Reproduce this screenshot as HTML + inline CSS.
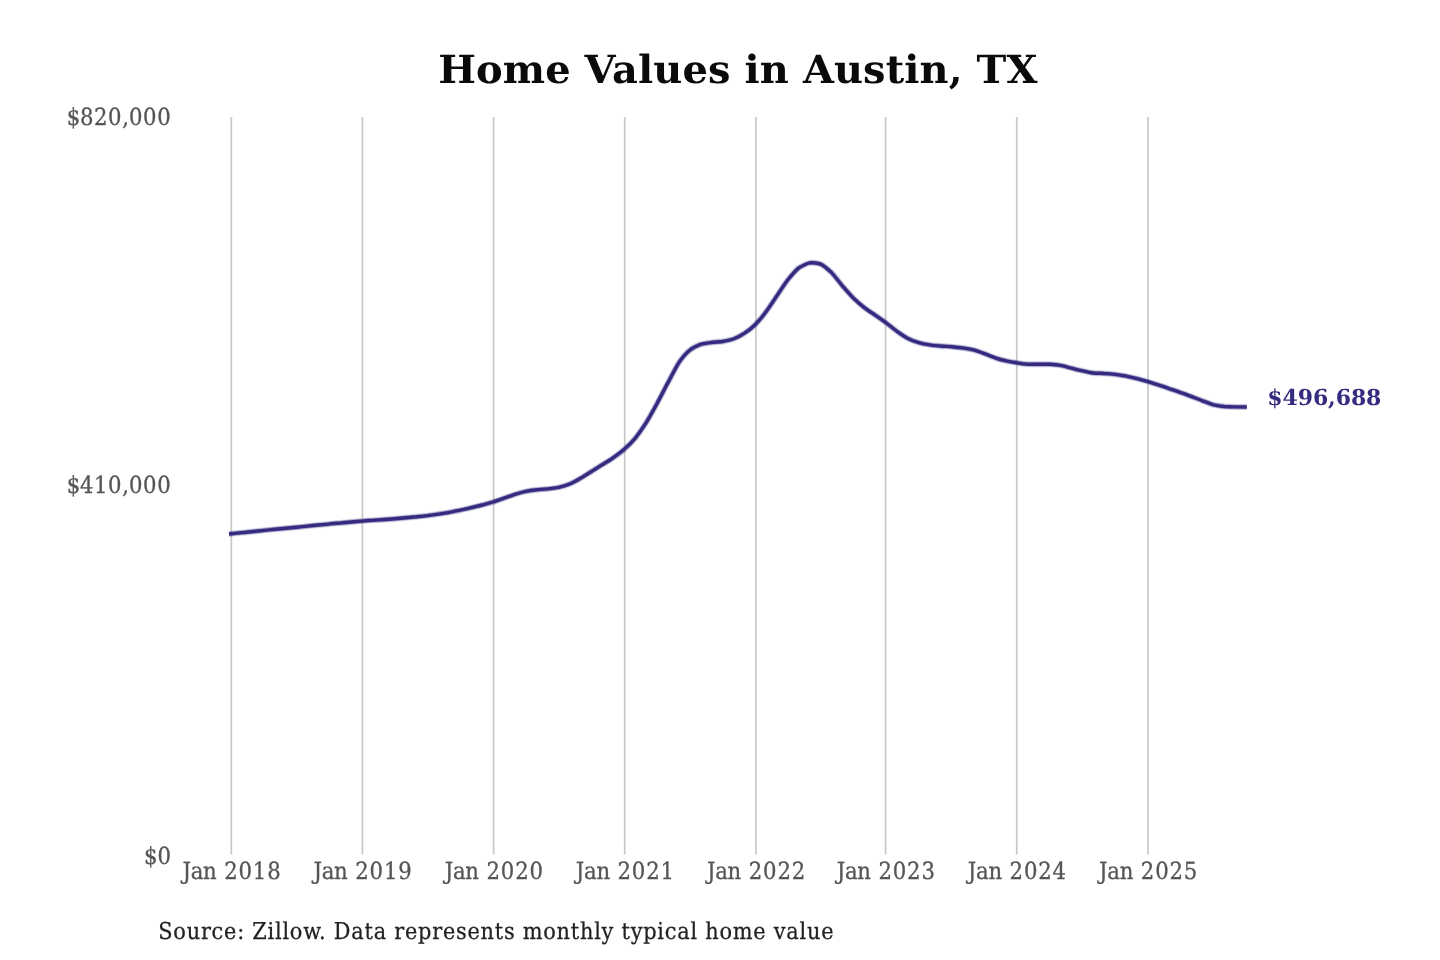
<!DOCTYPE html>
<html lang="en"><head><meta charset="utf-8"><title>Home Values in Austin, TX</title>
<style>
html,body{margin:0;padding:0;background:#fff;}
body{width:1440px;height:960px;overflow:hidden;}
svg{display:block;text-rendering:geometricPrecision;font-family:"DejaVu Serif","Liberation Serif",serif;}
.title{font-weight:bold;font-size:38.8px;fill:#0a0a0a;}
.ax text{font-family:"DejaVu Serif Condensed","DejaVu Serif",serif;font-stretch:condensed;font-size:23.6px;fill:#555;stroke:#555;stroke-width:0.3;}
.grid line{stroke:#c8c8c8;stroke-width:1.7;}
.src{font-family:"DejaVu Serif Condensed","DejaVu Serif",serif;font-stretch:condensed;font-size:23.2px;fill:#222;stroke:#222;stroke-width:0.25;}
.end{font-size:22px;font-weight:bold;fill:#352c80;}
</style></head><body>
<svg width="1440" height="960" viewBox="0 0 1440 960">
<rect width="1440" height="960" fill="#ffffff"/>
<text class="title" transform="translate(438.2 82.7) scale(1.03 1)" x="0" y="0" textLength="581.8" lengthAdjust="spacing">Home Values in Austin, TX</text>
<g class="grid">
<line x1="231.35" y1="117" x2="231.35" y2="854.5"/>
<line x1="362.40" y1="117" x2="362.40" y2="854.5"/>
<line x1="493.65" y1="117" x2="493.65" y2="854.5"/>
<line x1="624.70" y1="117" x2="624.70" y2="854.5"/>
<line x1="755.90" y1="117" x2="755.90" y2="854.5"/>
<line x1="885.60" y1="117" x2="885.60" y2="854.5"/>
<line x1="1016.75" y1="117" x2="1016.75" y2="854.5"/>
<line x1="1148.00" y1="117" x2="1148.00" y2="854.5"/>
</g>
<g class="ax">
<text x="66.71 80.11 94.11 107.91 122.26 129.11 143.11 157.36" y="124.7">$820,000</text>
<text x="66.71 80.11 94.11 107.91 122.26 129.11 143.11 157.36" y="492.7">$410,000</text>
<text x="143.91 157.41" y="863.5">$0</text>
<text y="879.3" x="182.47 190.66 203.06 216.86 224.16 238.51 252.86 267.21">Jan 2018</text>
<text y="879.3" x="313.52 321.71 334.11 347.91 355.21 369.56 383.91 398.26">Jan 2019</text>
<text y="879.3" x="444.77 452.96 465.36 479.16 486.46 500.81 515.16 529.51">Jan 2020</text>
<text y="879.3" x="575.82 584.01 596.41 610.21 617.51 631.86 646.21 660.56">Jan 2021</text>
<text y="879.3" x="707.02 715.21 727.61 741.41 748.71 763.06 777.41 791.76">Jan 2022</text>
<text y="879.3" x="836.72 844.91 857.31 871.11 878.41 892.76 907.11 921.46">Jan 2023</text>
<text y="879.3" x="967.87 976.06 988.46 1002.26 1009.56 1023.91 1038.26 1052.61">Jan 2024</text>
<text y="879.3" x="1099.12 1107.31 1119.71 1133.51 1140.81 1155.16 1169.51 1183.86">Jan 2025</text>
</g>
<g fill="none" stroke="#342a80" stroke-linejoin="round" stroke-linecap="butt" transform="translate(0,0.3)">
<path d="M229.0 533.7C230.3 533.6 239.8 532.6 242.2 532.3C244.6 532.1 250.9 531.4 253.1 531.2C255.3 531.0 261.9 530.3 264.0 530.1C266.2 529.9 272.8 529.2 275.0 529.0C277.1 528.8 283.7 528.2 285.9 528.0C288.0 527.8 294.6 527.1 296.8 526.9C299.0 526.7 305.5 526.0 307.7 525.8C309.9 525.6 316.4 524.9 318.6 524.7C320.8 524.5 327.3 523.9 329.5 523.6C331.7 523.4 338.2 522.8 340.4 522.7C342.6 522.5 349.2 521.9 351.3 521.7C353.5 521.5 360.1 521.0 362.3 520.8C364.4 520.6 371.0 520.1 373.2 520.0C375.4 519.8 381.9 519.4 384.1 519.2C386.3 519.1 392.8 518.6 395.0 518.4C397.2 518.2 403.7 517.7 405.9 517.5C408.1 517.3 414.6 516.7 416.8 516.5C419.0 516.2 425.6 515.5 427.7 515.3C429.9 515.0 436.5 514.1 438.6 513.8C440.8 513.5 447.4 512.4 449.6 512.0C451.7 511.6 458.3 510.4 460.5 509.9C462.7 509.4 469.2 508.0 471.4 507.4C473.6 506.9 480.1 505.3 482.3 504.7C484.5 504.1 491.0 502.4 493.2 501.7C495.4 501.0 501.9 498.7 504.1 497.9C506.3 497.1 512.9 494.7 515.0 494.0C517.2 493.3 523.8 491.5 526.0 491.0C528.1 490.5 534.7 489.6 536.9 489.4C539.0 489.1 545.6 488.8 547.8 488.6C550.0 488.4 556.5 487.6 558.7 487.1C560.9 486.6 567.4 484.6 569.6 483.7C571.8 482.8 578.3 479.3 580.5 478.0C582.7 476.8 589.2 472.5 591.4 471.2C593.6 469.8 600.2 465.8 602.3 464.4C604.5 463.1 611.1 459.0 613.3 457.4C615.4 455.9 622.0 451.0 624.2 449.0C626.4 447.1 632.9 440.6 635.1 438.0C637.3 435.3 643.8 426.0 646.0 422.6C648.2 419.1 654.7 407.4 656.9 403.4C659.1 399.4 665.6 386.7 667.8 382.6C670.0 378.5 676.6 365.9 678.7 362.6C680.9 359.4 687.5 351.8 689.7 350.0C691.8 348.1 698.4 344.8 700.6 344.0C702.7 343.3 709.3 342.5 711.5 342.2C713.7 341.9 720.2 341.5 722.4 341.2C724.6 340.8 731.1 339.5 733.3 338.7C735.5 337.9 742.0 334.6 744.2 333.1C746.4 331.7 752.9 326.6 755.1 324.4C757.3 322.2 763.9 314.4 766.0 311.5C768.2 308.6 774.8 298.5 777.0 295.3C779.1 292.1 785.7 282.2 787.9 279.4C790.1 276.7 796.6 269.3 798.8 267.6C801.0 266.0 807.5 263.0 809.7 262.6C811.9 262.3 818.4 262.9 820.6 263.8C822.8 264.8 829.3 270.2 831.5 272.3C833.7 274.5 840.3 283.0 842.4 285.5C844.6 288.0 851.2 295.5 853.3 297.7C855.5 299.8 862.1 305.6 864.3 307.3C866.4 309.0 873.0 313.3 875.2 314.8C877.4 316.3 883.9 320.9 886.1 322.5C888.3 324.2 894.8 329.5 897.0 331.0C899.2 332.6 905.7 337.0 907.9 338.1C910.1 339.2 916.6 341.7 918.8 342.3C921.0 343.0 927.6 344.3 929.7 344.6C931.9 345.0 938.5 345.5 940.7 345.7C942.8 345.9 949.4 346.2 951.6 346.4C953.7 346.6 960.3 347.3 962.5 347.6C964.7 347.9 971.2 349.0 973.4 349.6C975.6 350.2 982.1 352.5 984.3 353.3C986.5 354.1 993.0 356.8 995.2 357.5C997.4 358.3 1003.9 360.1 1006.1 360.6C1008.3 361.1 1014.9 362.2 1017.0 362.5C1019.2 362.9 1025.8 363.8 1028.0 363.9C1030.1 364.1 1036.7 363.8 1038.9 363.9C1041.1 363.9 1047.6 363.9 1049.8 364.0C1052.0 364.1 1058.5 364.7 1060.7 365.1C1062.9 365.5 1069.4 367.3 1071.6 367.8C1073.8 368.4 1080.3 370.1 1082.5 370.6C1084.7 371.1 1091.3 372.5 1093.4 372.7C1095.6 373.0 1102.2 373.0 1104.3 373.2C1106.5 373.3 1113.1 373.8 1115.3 374.1C1117.4 374.4 1124.0 375.4 1126.2 375.8C1128.4 376.3 1134.9 377.9 1137.1 378.4C1139.3 379.0 1145.8 380.8 1148.0 381.4C1150.2 382.1 1156.7 384.2 1158.9 384.9C1161.1 385.6 1167.6 387.8 1169.8 388.6C1172.0 389.3 1178.6 391.6 1180.7 392.4C1182.9 393.1 1189.5 395.5 1191.7 396.3C1193.8 397.1 1200.4 399.7 1202.6 400.5C1204.7 401.3 1211.3 403.9 1213.5 404.5C1215.7 405.0 1222.2 405.9 1224.4 406.2C1226.6 406.4 1233.1 406.6 1235.3 406.6C1237.5 406.7 1245.7 406.7 1246.8 406.7" stroke-opacity="0.12" stroke-width="6.4"/>
<path d="M229.0 533.7C230.3 533.6 239.8 532.6 242.2 532.3C244.6 532.1 250.9 531.4 253.1 531.2C255.3 531.0 261.9 530.3 264.0 530.1C266.2 529.9 272.8 529.2 275.0 529.0C277.1 528.8 283.7 528.2 285.9 528.0C288.0 527.8 294.6 527.1 296.8 526.9C299.0 526.7 305.5 526.0 307.7 525.8C309.9 525.6 316.4 524.9 318.6 524.7C320.8 524.5 327.3 523.9 329.5 523.6C331.7 523.4 338.2 522.8 340.4 522.7C342.6 522.5 349.2 521.9 351.3 521.7C353.5 521.5 360.1 521.0 362.3 520.8C364.4 520.6 371.0 520.1 373.2 520.0C375.4 519.8 381.9 519.4 384.1 519.2C386.3 519.1 392.8 518.6 395.0 518.4C397.2 518.2 403.7 517.7 405.9 517.5C408.1 517.3 414.6 516.7 416.8 516.5C419.0 516.2 425.6 515.5 427.7 515.3C429.9 515.0 436.5 514.1 438.6 513.8C440.8 513.5 447.4 512.4 449.6 512.0C451.7 511.6 458.3 510.4 460.5 509.9C462.7 509.4 469.2 508.0 471.4 507.4C473.6 506.9 480.1 505.3 482.3 504.7C484.5 504.1 491.0 502.4 493.2 501.7C495.4 501.0 501.9 498.7 504.1 497.9C506.3 497.1 512.9 494.7 515.0 494.0C517.2 493.3 523.8 491.5 526.0 491.0C528.1 490.5 534.7 489.6 536.9 489.4C539.0 489.1 545.6 488.8 547.8 488.6C550.0 488.4 556.5 487.6 558.7 487.1C560.9 486.6 567.4 484.6 569.6 483.7C571.8 482.8 578.3 479.3 580.5 478.0C582.7 476.8 589.2 472.5 591.4 471.2C593.6 469.8 600.2 465.8 602.3 464.4C604.5 463.1 611.1 459.0 613.3 457.4C615.4 455.9 622.0 451.0 624.2 449.0C626.4 447.1 632.9 440.6 635.1 438.0C637.3 435.3 643.8 426.0 646.0 422.6C648.2 419.1 654.7 407.4 656.9 403.4C659.1 399.4 665.6 386.7 667.8 382.6C670.0 378.5 676.6 365.9 678.7 362.6C680.9 359.4 687.5 351.8 689.7 350.0C691.8 348.1 698.4 344.8 700.6 344.0C702.7 343.3 709.3 342.5 711.5 342.2C713.7 341.9 720.2 341.5 722.4 341.2C724.6 340.8 731.1 339.5 733.3 338.7C735.5 337.9 742.0 334.6 744.2 333.1C746.4 331.7 752.9 326.6 755.1 324.4C757.3 322.2 763.9 314.4 766.0 311.5C768.2 308.6 774.8 298.5 777.0 295.3C779.1 292.1 785.7 282.2 787.9 279.4C790.1 276.7 796.6 269.3 798.8 267.6C801.0 266.0 807.5 263.0 809.7 262.6C811.9 262.3 818.4 262.9 820.6 263.8C822.8 264.8 829.3 270.2 831.5 272.3C833.7 274.5 840.3 283.0 842.4 285.5C844.6 288.0 851.2 295.5 853.3 297.7C855.5 299.8 862.1 305.6 864.3 307.3C866.4 309.0 873.0 313.3 875.2 314.8C877.4 316.3 883.9 320.9 886.1 322.5C888.3 324.2 894.8 329.5 897.0 331.0C899.2 332.6 905.7 337.0 907.9 338.1C910.1 339.2 916.6 341.7 918.8 342.3C921.0 343.0 927.6 344.3 929.7 344.6C931.9 345.0 938.5 345.5 940.7 345.7C942.8 345.9 949.4 346.2 951.6 346.4C953.7 346.6 960.3 347.3 962.5 347.6C964.7 347.9 971.2 349.0 973.4 349.6C975.6 350.2 982.1 352.5 984.3 353.3C986.5 354.1 993.0 356.8 995.2 357.5C997.4 358.3 1003.9 360.1 1006.1 360.6C1008.3 361.1 1014.9 362.2 1017.0 362.5C1019.2 362.9 1025.8 363.8 1028.0 363.9C1030.1 364.1 1036.7 363.8 1038.9 363.9C1041.1 363.9 1047.6 363.9 1049.8 364.0C1052.0 364.1 1058.5 364.7 1060.7 365.1C1062.9 365.5 1069.4 367.3 1071.6 367.8C1073.8 368.4 1080.3 370.1 1082.5 370.6C1084.7 371.1 1091.3 372.5 1093.4 372.7C1095.6 373.0 1102.2 373.0 1104.3 373.2C1106.5 373.3 1113.1 373.8 1115.3 374.1C1117.4 374.4 1124.0 375.4 1126.2 375.8C1128.4 376.3 1134.9 377.9 1137.1 378.4C1139.3 379.0 1145.8 380.8 1148.0 381.4C1150.2 382.1 1156.7 384.2 1158.9 384.9C1161.1 385.6 1167.6 387.8 1169.8 388.6C1172.0 389.3 1178.6 391.6 1180.7 392.4C1182.9 393.1 1189.5 395.5 1191.7 396.3C1193.8 397.1 1200.4 399.7 1202.6 400.5C1204.7 401.3 1211.3 403.9 1213.5 404.5C1215.7 405.0 1222.2 405.9 1224.4 406.2C1226.6 406.4 1233.1 406.6 1235.3 406.6C1237.5 406.7 1245.7 406.7 1246.8 406.7" stroke-opacity="0.35" stroke-width="5"/>
<path d="M229.0 533.7C230.3 533.6 239.8 532.6 242.2 532.3C244.6 532.1 250.9 531.4 253.1 531.2C255.3 531.0 261.9 530.3 264.0 530.1C266.2 529.9 272.8 529.2 275.0 529.0C277.1 528.8 283.7 528.2 285.9 528.0C288.0 527.8 294.6 527.1 296.8 526.9C299.0 526.7 305.5 526.0 307.7 525.8C309.9 525.6 316.4 524.9 318.6 524.7C320.8 524.5 327.3 523.9 329.5 523.6C331.7 523.4 338.2 522.8 340.4 522.7C342.6 522.5 349.2 521.9 351.3 521.7C353.5 521.5 360.1 521.0 362.3 520.8C364.4 520.6 371.0 520.1 373.2 520.0C375.4 519.8 381.9 519.4 384.1 519.2C386.3 519.1 392.8 518.6 395.0 518.4C397.2 518.2 403.7 517.7 405.9 517.5C408.1 517.3 414.6 516.7 416.8 516.5C419.0 516.2 425.6 515.5 427.7 515.3C429.9 515.0 436.5 514.1 438.6 513.8C440.8 513.5 447.4 512.4 449.6 512.0C451.7 511.6 458.3 510.4 460.5 509.9C462.7 509.4 469.2 508.0 471.4 507.4C473.6 506.9 480.1 505.3 482.3 504.7C484.5 504.1 491.0 502.4 493.2 501.7C495.4 501.0 501.9 498.7 504.1 497.9C506.3 497.1 512.9 494.7 515.0 494.0C517.2 493.3 523.8 491.5 526.0 491.0C528.1 490.5 534.7 489.6 536.9 489.4C539.0 489.1 545.6 488.8 547.8 488.6C550.0 488.4 556.5 487.6 558.7 487.1C560.9 486.6 567.4 484.6 569.6 483.7C571.8 482.8 578.3 479.3 580.5 478.0C582.7 476.8 589.2 472.5 591.4 471.2C593.6 469.8 600.2 465.8 602.3 464.4C604.5 463.1 611.1 459.0 613.3 457.4C615.4 455.9 622.0 451.0 624.2 449.0C626.4 447.1 632.9 440.6 635.1 438.0C637.3 435.3 643.8 426.0 646.0 422.6C648.2 419.1 654.7 407.4 656.9 403.4C659.1 399.4 665.6 386.7 667.8 382.6C670.0 378.5 676.6 365.9 678.7 362.6C680.9 359.4 687.5 351.8 689.7 350.0C691.8 348.1 698.4 344.8 700.6 344.0C702.7 343.3 709.3 342.5 711.5 342.2C713.7 341.9 720.2 341.5 722.4 341.2C724.6 340.8 731.1 339.5 733.3 338.7C735.5 337.9 742.0 334.6 744.2 333.1C746.4 331.7 752.9 326.6 755.1 324.4C757.3 322.2 763.9 314.4 766.0 311.5C768.2 308.6 774.8 298.5 777.0 295.3C779.1 292.1 785.7 282.2 787.9 279.4C790.1 276.7 796.6 269.3 798.8 267.6C801.0 266.0 807.5 263.0 809.7 262.6C811.9 262.3 818.4 262.9 820.6 263.8C822.8 264.8 829.3 270.2 831.5 272.3C833.7 274.5 840.3 283.0 842.4 285.5C844.6 288.0 851.2 295.5 853.3 297.7C855.5 299.8 862.1 305.6 864.3 307.3C866.4 309.0 873.0 313.3 875.2 314.8C877.4 316.3 883.9 320.9 886.1 322.5C888.3 324.2 894.8 329.5 897.0 331.0C899.2 332.6 905.7 337.0 907.9 338.1C910.1 339.2 916.6 341.7 918.8 342.3C921.0 343.0 927.6 344.3 929.7 344.6C931.9 345.0 938.5 345.5 940.7 345.7C942.8 345.9 949.4 346.2 951.6 346.4C953.7 346.6 960.3 347.3 962.5 347.6C964.7 347.9 971.2 349.0 973.4 349.6C975.6 350.2 982.1 352.5 984.3 353.3C986.5 354.1 993.0 356.8 995.2 357.5C997.4 358.3 1003.9 360.1 1006.1 360.6C1008.3 361.1 1014.9 362.2 1017.0 362.5C1019.2 362.9 1025.8 363.8 1028.0 363.9C1030.1 364.1 1036.7 363.8 1038.9 363.9C1041.1 363.9 1047.6 363.9 1049.8 364.0C1052.0 364.1 1058.5 364.7 1060.7 365.1C1062.9 365.5 1069.4 367.3 1071.6 367.8C1073.8 368.4 1080.3 370.1 1082.5 370.6C1084.7 371.1 1091.3 372.5 1093.4 372.7C1095.6 373.0 1102.2 373.0 1104.3 373.2C1106.5 373.3 1113.1 373.8 1115.3 374.1C1117.4 374.4 1124.0 375.4 1126.2 375.8C1128.4 376.3 1134.9 377.9 1137.1 378.4C1139.3 379.0 1145.8 380.8 1148.0 381.4C1150.2 382.1 1156.7 384.2 1158.9 384.9C1161.1 385.6 1167.6 387.8 1169.8 388.6C1172.0 389.3 1178.6 391.6 1180.7 392.4C1182.9 393.1 1189.5 395.5 1191.7 396.3C1193.8 397.1 1200.4 399.7 1202.6 400.5C1204.7 401.3 1211.3 403.9 1213.5 404.5C1215.7 405.0 1222.2 405.9 1224.4 406.2C1226.6 406.4 1233.1 406.6 1235.3 406.6C1237.5 406.7 1245.7 406.7 1246.8 406.7" stroke-width="3.4"/>
</g>
<text class="end" x="1267.3" y="405.4" textLength="114.1" lengthAdjust="spacing">$496,688</text>
<text class="src" x="158.3" y="939" textLength="675.2" lengthAdjust="spacing">Source: Zillow. Data represents monthly typical home value</text>
</svg>
</body></html>
